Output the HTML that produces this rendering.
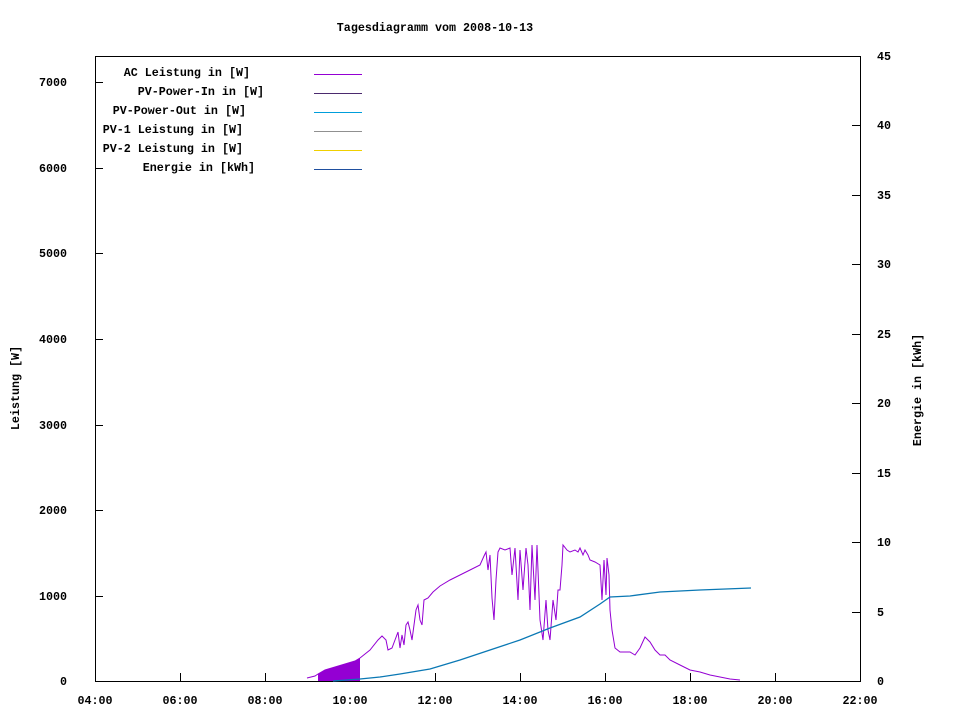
<!DOCTYPE html><html><head><style>body{margin:0;background:#fff}svg text{font-family:"Liberation Mono",monospace;font-size:11.7px;font-weight:bold;fill:#000}</style></head><body>
<svg width="960" height="720" xmlns="http://www.w3.org/2000/svg">
<rect x="95.5" y="56.5" width="765" height="625" fill="none" stroke="#000"/>
<text x="435" y="31" text-anchor="middle">Tagesdiagramm vom 2008-10-13</text>
<g stroke="#000">
<path d="M95 596.5h8M95 510.5h8M95 425.5h8M95 339.5h8M95 253.5h8M95 168.5h8M95 82.5h8"/>
<path d="M860 612.5h-8M860 542.5h-8M860 473.5h-8M860 403.5h-8M860 334.5h-8M860 264.5h-8M860 195.5h-8M860 125.5h-8"/>
<path d="M180.5 681v-8M265.5 681v-8M350.5 681v-8M435.5 681v-8M520.5 681v-8M605.5 681v-8M690.5 681v-8M775.5 681v-8"/>
</g>
<g text-anchor="end">
<text x="67" y="685">0</text><text x="67" y="600">1000</text><text x="67" y="514">2000</text><text x="67" y="429">3000</text><text x="67" y="343">4000</text><text x="67" y="257">5000</text><text x="67" y="172">6000</text><text x="67" y="86">7000</text>
</g>
<g>
<text x="877" y="685">0</text><text x="877" y="616">5</text><text x="877" y="546">10</text><text x="877" y="477">15</text><text x="877" y="407">20</text><text x="877" y="338">25</text><text x="877" y="268">30</text><text x="877" y="199">35</text><text x="877" y="129">40</text><text x="877" y="60">45</text>
</g>
<g text-anchor="middle">
<text x="95" y="704">04:00</text><text x="180" y="704">06:00</text><text x="265" y="704">08:00</text><text x="350" y="704">10:00</text><text x="435" y="704">12:00</text><text x="520" y="704">14:00</text><text x="605" y="704">16:00</text><text x="690" y="704">18:00</text><text x="775" y="704">20:00</text><text x="860" y="704">22:00</text>
</g>
<text transform="translate(19,388) rotate(-90)" text-anchor="middle">Leistung [W]</text>
<text transform="translate(921,390) rotate(-90)" text-anchor="middle">Energie in [kWh]</text>
<g text-anchor="end">
<text x="250" y="76">AC Leistung in [W]</text>
<text x="264" y="95">PV-Power-In in [W]</text>
<text x="246" y="114">PV-Power-Out in [W]</text>
<text x="243" y="133">PV-1 Leistung in [W]</text>
<text x="243" y="152">PV-2 Leistung in [W]</text>
<text x="255" y="171">Energie in [kWh]</text>
</g>
<path d="M314 74.5h48" stroke="#9400d3"/>
<path d="M314 93.5h48" stroke="#4b2a6e"/>
<path d="M314 112.5h48" stroke="#009edb"/>
<path d="M314 131.5h48" stroke="#909090"/>
<path d="M314 150.5h48" stroke="#f0d000"/>
<path d="M314 169.5h48" stroke="#1f4f9f"/>
<polygon points="318,681 318,674 325,670 335,667 345,664 355,661 360,658 360,681" fill="#9400d3"/>
<polyline fill="none" stroke="#9400d3" stroke-width="1" points="307,678 315,676 318,674 325,670 335,667 345,664 355,661 360,658 370,650 378,640 382,636 386,640 388,650 392,648 395,640 398,632 400,648 402,635 404,645 406,625 408,622 410,630 412,640 414,625 416,610 418,605 420,620 422,625 424,600 428,598 433,592 440,586 450,580 460,575 470,570 480,565 484,556 486,552 488,570 490,555 492,598 494,620 496,580 498,552 500,548 505,550 510,548 512,575 515,548 518,600 520,550 523,590 526,548 528,565 530,610 532,545 535,600 537,545 540,620 543,640 546,600 548,630 550,640 553,600 556,620 558,590 560,590 562,565 563,545 567,550 570,552 575,550 578,552 580,548 583,555 585,550 588,555 590,560 595,562 600,565 602,600 604,560 606,595 607,558 609,575 610,610 612,630 615,648 620,652 630,652 635,655 640,648 645,637 650,642 655,650 660,655 665,655 670,660 680,665 690,670 700,672 710,675 720,677 730,679 740,680"/>
<polyline fill="none" stroke="#0a78b4" stroke-width="1.3" points="333,681 360,679 380,677 400,674 430,669 460,660 490,650 520,640 550,628 580,617 600,604 610,597 630,596 660,592 700,590 751,588"/>
</svg></body></html>
